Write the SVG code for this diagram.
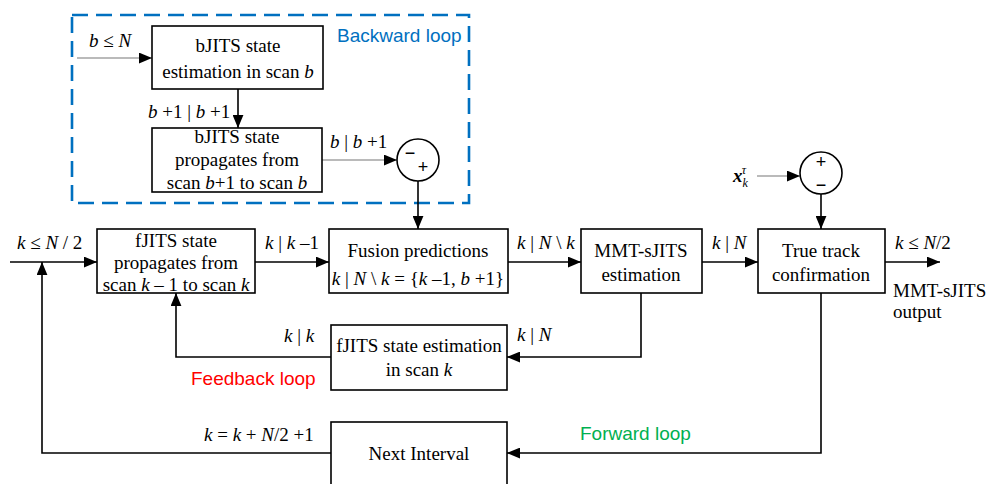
<svg xmlns="http://www.w3.org/2000/svg" width="987" height="484" viewBox="0 0 987 484">
<defs>
<marker id="ah" viewBox="0 0 12 10" refX="12" refY="5" markerWidth="13" markerHeight="11" markerUnits="userSpaceOnUse" orient="auto">
<path d="M0,0 L12,5 L0,10 Z" fill="#000"/>
</marker>
</defs>
<style>
.box{fill:#fff;stroke:#000;stroke-width:1.6}
.ln{fill:none;stroke:#000;stroke-width:1.6}
.thin{fill:none;stroke:#777;stroke-width:1.1}
.t{font-family:"Liberation Serif",serif;font-size:19px;fill:#000;text-anchor:middle}
.m{font-family:"Liberation Serif",serif;font-size:19px;fill:#000}
.i{font-style:italic}
.lbl{font-family:"Liberation Sans",Arial,sans-serif;font-size:19px}
.sg{font-family:"Liberation Sans",Arial,sans-serif;font-size:18px;text-anchor:middle;fill:#000}
</style>
<rect x="72" y="15" width="397" height="188" fill="none" stroke="#0070C0" stroke-width="2.6" stroke-dasharray="16,8"/>
<text class="lbl" x="337" y="42" fill="#0070C0">Backward loop</text>

<g id="connectors">
<path class="thin" d="M77,58 H152" marker-end="url(#ah)"/>
<path class="ln" d="M238,89 V128" marker-end="url(#ah)" stroke-width="1.1" stroke="#333"/>
<path class="thin" d="M322,160 H397" marker-end="url(#ah)"/>
<path class="ln" d="M418,181 V229" marker-end="url(#ah)"/>
<path class="ln" d="M10,262 H97" marker-end="url(#ah)"/>
<path class="ln" d="M255,262 H329" marker-end="url(#ah)"/>
<path class="ln" d="M508,262 H581" marker-end="url(#ah)"/>
<path class="ln" d="M702,262 H758" marker-end="url(#ah)"/>
<path class="ln" d="M885,262 H940" marker-end="url(#ah)"/>
<path class="thin" d="M757,176 H800" marker-end="url(#ah)"/>
<path class="ln" d="M821,194 V229" marker-end="url(#ah)"/>
<path class="ln" d="M641,293 V357 H507" marker-end="url(#ah)"/>
<path class="ln" d="M331,357 H176 V293" marker-end="url(#ah)"/>
<path class="ln" d="M821,293 V453 H507" marker-end="url(#ah)"/>
<path class="ln" d="M331,453 H42 V262" marker-end="url(#ah)"/>
</g>

<g id="bjits-est">
<rect class="box" x="152" y="26" width="171" height="63"/>
<text class="t" x="238" y="52">bJITS state</text>
<text class="t" x="238" y="78">estimation in scan <tspan class="i">b</tspan></text>
</g>
<g id="bjits-prop">
<rect class="box" x="152" y="128" width="170" height="64"/>
<text class="t" x="237" y="143">bJITS state</text>
<text class="t" x="237" y="166">propagates from</text>
<text class="t" x="237" y="189">scan <tspan class="i">b</tspan>+1 to scan <tspan class="i">b</tspan></text>
</g>
<g id="sum1">
<circle cx="418" cy="160" r="21" fill="#fff" stroke="#000" stroke-width="1.6"/>
<text class="sg" x="410" y="159">−</text>
<text class="sg" x="423" y="173">+</text>
</g>
<g id="fjits-prop">
<rect class="box" x="97" y="229" width="158" height="64"/>
<text class="t" x="176" y="247">fJITS state</text>
<text class="t" x="176" y="269">propagates from</text>
<text class="t" x="176" y="291">scan <tspan class="i">k</tspan> – 1 to scan <tspan class="i">k</tspan></text>
</g>
<g id="fusion">
<rect class="box" x="329" y="229" width="179" height="64"/>
<text class="t" x="418" y="257">Fusion predictions</text>
<text class="t" x="418" y="285"><tspan class="i">k</tspan> | <tspan class="i">N</tspan> \ <tspan class="i">k</tspan> = {<tspan class="i">k</tspan> –1, <tspan class="i">b</tspan> +1}</text>
</g>
<g id="mmt">
<rect class="box" x="581" y="229" width="121" height="64"/>
<text class="t" x="641" y="257">MMT-sJITS</text>
<text class="t" x="641" y="281">estimation</text>
</g>
<g id="truetrack">
<rect class="box" x="758" y="229" width="127" height="64"/>
<text class="t" x="821" y="257">True track</text>
<text class="t" x="821" y="281">confirmation</text>
</g>
<g id="sum2">
<circle cx="821" cy="173" r="21" fill="#fff" stroke="#000" stroke-width="1.6"/>
<text class="sg" x="821" y="168">+</text>
<text class="sg" x="821" y="191">−</text>
</g>
<g id="fjits-est">
<rect class="box" x="331" y="325" width="176" height="65"/>
<text class="t" x="419" y="352">fJITS state estimation</text>
<text class="t" x="419" y="376">in scan <tspan class="i">k</tspan></text>
</g>
<g id="next">
<rect class="box" x="331" y="422" width="176" height="70"/>
<text class="t" x="419" y="460">Next Interval</text>
</g>

<g id="labels">
<text class="m i" x="89" y="47">b ≤ N</text>
<text class="m" x="148" y="118"><tspan class="i">b</tspan> +1 | <tspan class="i">b</tspan> +1</text>
<text class="m" x="330" y="148"><tspan class="i">b</tspan> | <tspan class="i">b</tspan> +1</text>
<text class="m" x="17" y="249"><tspan class="i">k</tspan> ≤ <tspan class="i">N</tspan> / 2</text>
<text class="m" x="265" y="249"><tspan class="i">k</tspan> | <tspan class="i">k</tspan> –1</text>
<text class="m" x="517" y="249"><tspan class="i">k</tspan> | <tspan class="i">N</tspan> \ <tspan class="i">k</tspan></text>
<text class="m" x="712" y="249"><tspan class="i">k</tspan> | <tspan class="i">N</tspan></text>
<text class="m" x="895" y="249"><tspan class="i">k</tspan> ≤ <tspan class="i">N</tspan>/2</text>
<text class="m" x="893" y="297">MMT-sJITS</text>
<text class="m" x="893" y="318">output</text>
<text class="m" x="733" y="182" font-weight="bold" font-style="italic">x<tspan font-size="12" dy="5" font-weight="normal">k</tspan><tspan font-size="12" dx="-6" dy="-13" font-weight="normal">τ</tspan></text>
<text class="m" x="517" y="341"><tspan class="i">k</tspan> | <tspan class="i">N</tspan></text>
<text class="m" x="284" y="342"><tspan class="i">k</tspan> | <tspan class="i">k</tspan></text>
<text class="lbl" x="191" y="385" fill="#FF0000">Feedback loop</text>
<text class="lbl" x="580" y="440" fill="#00B050">Forward loop</text>
<text class="m" x="204" y="441"><tspan class="i">k</tspan> = <tspan class="i">k</tspan> + <tspan class="i">N</tspan>/2 +1</text>
</g>
</svg>
